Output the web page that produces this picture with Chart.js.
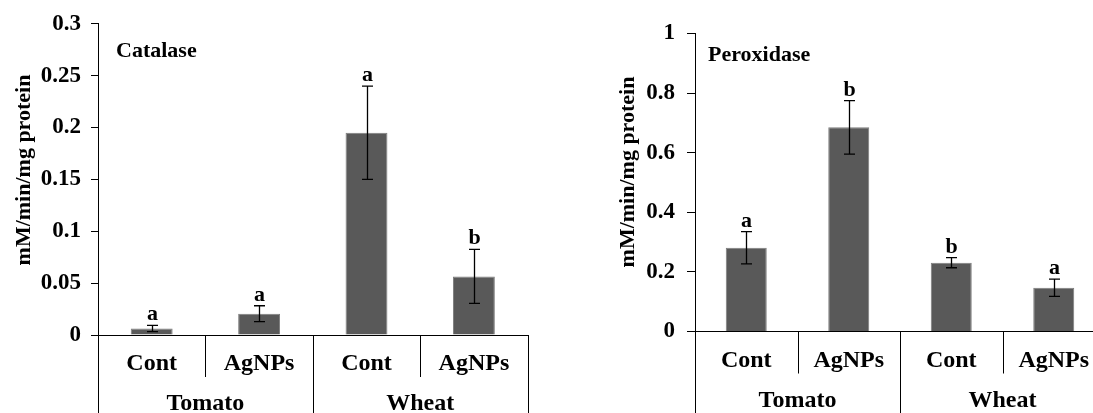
<!DOCTYPE html>
<html>
<head>
<meta charset="utf-8">
<script src="https://cdn.jsdelivr.net/npm/chart.js@4.4.1/dist/chart.umd.min.js"></script>
<style>
    html, body { margin: 0; padding: 0; background: #fff; overflow: hidden; }
    body { width: 1093px; height: 413px; position: relative; }
    .painel { position: absolute; top: 0; height: 413px; }
    #painel-cat { left: 0; width: 560px; }
    #painel-per { left: 560px; width: 560px; }
</style>
</head>
<body>
<div class="painel" id="painel-cat"><canvas id="chart-cat"></canvas></div>
<div class="painel" id="painel-per"><canvas id="chart-per"></canvas></div>
<script>
// dados
const tratamentos = ["Cont", "AgNPs", "Cont", "AgNPs"];
const especies = ["Tomato", "Wheat"];

const catalaseMedia = [0.0063, 0.0205, 0.195, 0.0565];
const catalaseErro = [0.003, 0.0077, 0.045, 0.026];
const catalaseLetras = ["a", "a", "a", "b"];
const catalaseTicks = ["0", "0.05", "0.1", "0.15", "0.2", "0.25", "0.3"];

const peroxidaseMedia = [0.281, 0.685, 0.231, 0.147];
const peroxidaseErro = [0.054, 0.09, 0.017, 0.029];
const peroxidaseLetras = ["a", "b", "b", "a"];
const peroxidaseTicks = ["0", "0.2", "0.4", "0.6", "0.8", "1"];

const FONTE = '"Liberation Serif", "Times New Roman", serif';
const TITULO_Y = "mM/min/mg protein";

// desenha barras de erro, letras, titulo e o eixo x em dois niveis
const extrasPlugin = {
    id: "extras",
    afterDatasetsDraw(chart, args, opts) {
        const ctx = chart.ctx,
            area = chart.chartArea,
            xs = chart.scales.x,
            ys = chart.scales.y,
            meta = chart.getDatasetMeta(0),
            H = chart.height;
        ctx.save();
        ctx.strokeStyle = "#000";
        ctx.fillStyle = "#000";
        ctx.lineWidth = 1.3;

        // barras de erro + letras
        ctx.font = "bold 22px " + FONTE;
        ctx.textAlign = "center";
        ctx.textBaseline = "alphabetic";
        opts.media.forEach((m, i) => {
            const x = Math.round(meta.data[i].x) + 0.5,
                yt = ys.getPixelForValue(m + opts.erro[i]),
                yb = ys.getPixelForValue(m - opts.erro[i]);
            ctx.beginPath();
            ctx.moveTo(x, yt); ctx.lineTo(x, yb);
            ctx.moveTo(x - 5.5, yt); ctx.lineTo(x + 5.5, yt);
            ctx.moveTo(x - 5.5, yb); ctx.lineTo(x + 5.5, yb);
            ctx.stroke();
            ctx.fillText(opts.letras[i], x, yt - 5);
        });

        ctx.lineWidth = 1;
        // eixo y prolongado ate o fim
        const xl = Math.round(area.left) + 0.5;
        ctx.beginPath();
        ctx.moveTo(xl, area.bottom); ctx.lineTo(xl, H);
        ctx.stroke();

        // divisorias das categorias
        const n = tratamentos.length,
            borda = (i) => (i >= n - 1 ? area.right : (xs.getPixelForValue(i) + xs.getPixelForValue(i + 1)) / 2);
        for (let i = 0; i < n; i++) {
            const bx = Math.round(borda(i)) + 0.5,
                fim = i % 2 === 0 ? area.bottom + 42 : H;
            ctx.beginPath();
            ctx.moveTo(bx, area.bottom); ctx.lineTo(bx, fim);
            ctx.stroke();
        }

        // rotulos dos tratamentos
        ctx.font = "bold 24px " + FONTE;
        tratamentos.forEach((t, i) => ctx.fillText(t, xs.getPixelForValue(i), area.bottom + 35));

        // rotulos das especies
        ctx.font = "bold 24px " + FONTE;
        especies.forEach((e, g) => {
            const xc = (xs.getPixelForValue(2 * g) + xs.getPixelForValue(2 * g + 1)) / 2;
            ctx.fillText(e, xc, area.bottom + 75);
        });

        // titulo do painel
        ctx.textAlign = "left";
        ctx.font = "bold 22px " + FONTE;
        ctx.fillText(opts.titulo, area.left + opts.tituloDx, area.top + opts.tituloDy);

        // titulo do eixo y
        ctx.translate(opts.yTituloX, opts.yTituloY);
        ctx.rotate(-Math.PI / 2);
        ctx.textAlign = "center";
        ctx.textBaseline = "middle";
        ctx.font = "bold 22px " + FONTE;
        ctx.fillText(TITULO_Y, 0, 0);
        ctx.restore();
    },
};

function criarPainel(id, cfg) {
    return new Chart(document.getElementById(id), {
        type: "bar",
        data: {
            labels: tratamentos,
            datasets: [{
                data: cfg.media,
                backgroundColor: "#595959",
                borderColor: "#7d7d7d",
                borderWidth: 1,
                categoryPercentage: 1,
                barPercentage: cfg.larguraBarra,
            }],
        },
        options: {
            responsive: true,
            maintainAspectRatio: false,
            animation: false,
            layout: { padding: { left: 0, top: cfg.topo, right: cfg.direita, bottom: 0 } },
            plugins: {
                legend: { display: false },
                tooltip: { enabled: false },
                extras: cfg.extras,
            },
            scales: {
                x: {
                    grid: { display: false },
                    border: { display: true, color: "#000", width: 1 },
                    ticks: { display: false },
                    afterFit: (s) => { s.height = cfg.alturaX; },
                },
                y: {
                    min: 0,
                    max: cfg.max,
                    ticks: {
                        stepSize: cfg.passo,
                        color: "#000",
                        padding: cfg.padTick,
                        font: { family: FONTE, size: 23, weight: "bold" },
                        callback: (v, i) => cfg.ticks[i],
                    },
                    grid: { display: true, drawOnChartArea: false, drawTicks: true, tickLength: cfg.tickLen, color: "#000" },
                    border: { display: true, color: "#000", width: 1 },
                    afterFit: (s) => { s.width = cfg.larguraY; },
                },
            },
        },
        plugins: [extrasPlugin],
    });
}

criarPainel("chart-cat", {
    media: catalaseMedia, max: 0.3, passo: 0.05, ticks: catalaseTicks,
    larguraBarra: 0.39, topo: 21.7, direita: 32.4, alturaX: 78, larguraY: 98,
    padTick: 10, tickLen: 7,
    extras: { media: catalaseMedia, erro: catalaseErro, letras: catalaseLetras, titulo: "Catalase",
              tituloDx: 18, tituloDy: 33.5, yTituloX: 24, yTituloY: 170 },
});

criarPainel("chart-per", {
    media: peroxidaseMedia, max: 1, passo: 0.2, ticks: peroxidaseTicks,
    larguraBarra: 0.4, topo: 33.5, direita: 15, alturaX: 81.5, larguraY: 135,
    padTick: 12, tickLen: 8,
    extras: { media: peroxidaseMedia, erro: peroxidaseErro, letras: peroxidaseLetras, titulo: "Peroxidase",
              tituloDx: 13, tituloDy: 27.5, yTituloX: 68, yTituloY: 172 },
});
</script>
</body>
</html>
